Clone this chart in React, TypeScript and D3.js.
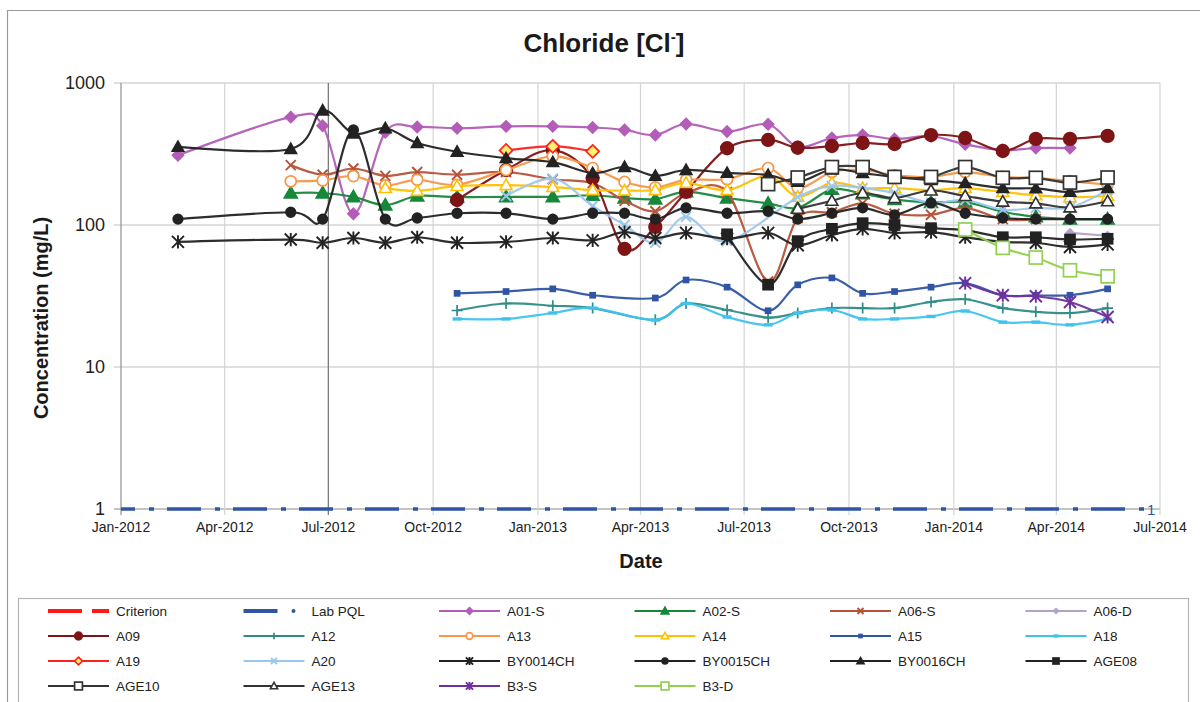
import React from 'react';
import * as d3 from 'd3';

const _ = null;

// sampling dates shared by all monitoring series
const sampleDates = [
  '2012-02-20', '2012-05-29', '2012-06-26', '2012-07-23', '2012-08-20', '2012-09-17',
  '2012-10-22', '2012-12-04', '2013-01-14', '2013-02-18', '2013-03-18', '2013-04-14',
  '2013-05-11', '2013-06-16', '2013-07-22', '2013-08-17', '2013-09-16', '2013-10-13',
  '2013-11-10', '2013-12-12', '2014-01-11', '2014-02-13', '2014-03-14', '2014-04-13',
  '2014-05-16',
];

const xTickDates = [
  '2012-01-01', '2012-04-01', '2012-07-01', '2012-10-01', '2013-01-01', '2013-04-01',
  '2013-07-01', '2013-10-01', '2014-01-01', '2014-04-01', '2014-07-01',
];
const xTickLabels = [
  'Jan-2012', 'Apr-2012', 'Jul-2012', 'Oct-2012', 'Jan-2013', 'Apr-2013',
  'Jul-2013', 'Oct-2013', 'Jan-2014', 'Apr-2014', 'Jul-2014',
];
const yTicks = [1, 10, 100, 1000];
const yTickLabels = ['1', '10', '100', '1000'];

const pqlDates = ['2012-01-01', '2014-06-17'];
const pqlValues = [1, 1];

const a01S = [310, 575, 500, 120, 450, 490, 480, 495, 495, 486, 467, 430, 515, 455, 512, 355, 410, 430, 403, 422, 370, 337, 348, 348, _];
const a02S = [_, 168, 168, 158, 138, 160, 157, 158, 158, 162, 155, 152, 171, 155, 142, 132, 178, 166, 151, 144, 145, 124, 114, 110, 110];
const a06S = [_, 264, 226, 250, 222, 236, 226, 236, 210, 197, 148, 125, 168, 170, 40, 112, 123, 142, 120, 118, 132, 110, 110, _, _];
const a06D = [_, _, _, _, _, _, _, _, _, _, _, _, _, _, _, _, _, _, _, _, _, _, _, 88, 84];
const a09 = [_, _, _, _, _, _, 150, 244, 337, 214, 68, 97, 171, 347, 397, 350, 360, 378, 372, 430, 410, 332, 404, 404, 424];
const a12 = [_, _, _, _, _, _, 25, 28, 27, 26, _, 21.5, 28, 25.2, 22.3, 24, 26, 26, 26, 28.7, 30, 26, 24.5, 24, 26];
const a13 = [_, 203, 206, 221, 190, 208, 192, 244, 305, 252, 201, 184, 208, 210, 252, 182, 236, 244, 225, 218, 236, 218, 214, 204, 192];
const a14 = [_, _, _, _, 182, 174, 188, 191, 185, 176, 175, 176, 198, 176, 222, 158, 198, 182, 182, 176, 182, 171, 162, 157, 160];
const a15 = [_, _, _, _, _, _, 33, 34, 35.5, 32, _, 30.6, 41, 36.5, 24.9, 37.9, 42.4, 33, 34, 36.5, 39, 32, 32, 32, 35.5];
const a18 = [_, _, _, _, _, _, 21.8, 21.8, 24, 26, _, 21.4, 28, 22.5, 19.8, 24, 25.2, 21.8, 21.8, 22.7, 24.8, 20.7, 20.7, 19.8, 21.8];
const a19 = [_, _, _, _, _, _, _, 335, 358, 330, _, _, _, _, _, _, _, _, _, _, _, _, _, _, _];
const a20 = [_, _, _, _, _, _, _, 160, 212, 136, 100, 75, 114, 77, _, 157, 188, 182, 168, 143, 150, 128, 132, 133, 176];
const by0014ch = [76, 79, 75, 81, 75, 82, 75, 76, 81, 78, 89, 81, 88, 80, 88, 72, 85, 94, 88, 89, 82, 76, 75, 70, 73];
const by0015ch = [110, 123, 110, 467, 110, 112, 121, 121, 110, 121, 121, 110, 132, 121, 125, 110, 121, 132, 118, 143, 121, 112, 110, 110, 110];
const by0016ch = [355, 343, 640, 440, 480, 378, 328, 296, 277, 232, 256, 222, 244, 233, 225, 201, 246, 232, 218, 207, 197, 182, 181, 171, 182];
const age08 = [_, _, _, _, _, _, _, _, _, _, _, _, _, 86, 38, 77, 94, 103, 100, 95, 92, 82, 82, 79, 80];
const age10 = [_, _, _, _, _, _, _, _, _, _, _, _, _, _, 194, 216, 256, 256, 218, 218, 256, 215, 215, 199, 216];
const age13 = [_, _, _, _, _, _, _, _, _, _, _, _, _, _, _, 130, 148, 168, 155, 175, 160, 146, 142, 133, 147];
const b3S = [_, _, _, _, _, _, _, _, _, _, _, _, _, _, _, _, _, _, _, _, 39, 32, 31.5, 28.7, 22.5];
const b3D = [_, _, _, _, _, _, _, _, _, _, _, _, _, _, _, _, _, _, _, _, 93, 69, 59, 48, 43.5];

type Series = {
  name: string;
  values: (number | null)[] | null;
  color: string;
  marker: string;
  fill?: string;
  size: number;
};

const series: Series[] = [
  { name: 'Criterion', values: null, color: '#FF1A1A', marker: 'none', size: 0 },
  { name: 'Lab PQL', values: null, color: '#2F55A4', marker: 'none', size: 0 },
  { name: 'A01-S', values: a01S, color: '#B35CB8', marker: 'diamond', size: 5.5 },
  { name: 'A02-S', values: a02S, color: '#17873A', marker: 'triangle', size: 6.5 },
  { name: 'A06-S', values: a06S, color: '#B5533A', marker: 'x', size: 5 },
  { name: 'A06-D', values: a06D, color: '#B3A2C7', marker: 'diamond', size: 4, fill: '#B3A2C7' },
  { name: 'A09', values: a09, color: '#7E1416', marker: 'circle', size: 6.3 },
  { name: 'A12', values: a12, color: '#2E8C88', marker: 'plus', size: 5.5 },
  { name: 'A13', values: a13, color: '#F79646', marker: 'circle', fill: '#FFFFFF', size: 5.5 },
  { name: 'A14', values: a14, color: '#FFC000', marker: 'triangle', fill: '#FFFFFF', size: 6 },
  { name: 'A15', values: a15, color: '#2F55A4', marker: 'square', size: 2.5 },
  { name: 'A18', values: a18, color: '#3EC3EF', marker: 'dash', size: 4.5 },
  { name: 'A19', values: a19, color: '#FF2020', marker: 'diamond', fill: '#FFF170', size: 6.5 },
  { name: 'A20', values: a20, color: '#9CC7EC', marker: 'x', size: 5 },
  { name: 'BY0014CH', values: by0014ch, color: '#222222', marker: 'asterisk', size: 6 },
  { name: 'BY0015CH', values: by0015ch, color: '#222222', marker: 'circle', size: 4.8 },
  { name: 'BY0016CH', values: by0016ch, color: '#222222', marker: 'triangle', size: 5.8 },
  { name: 'AGE08', values: age08, color: '#222222', marker: 'square', size: 5 },
  { name: 'AGE10', values: age10, color: '#333333', marker: 'square', fill: '#FFFFFF', size: 6.5 },
  { name: 'AGE13', values: age13, color: '#333333', marker: 'triangle', fill: '#FFFFFF', size: 6 },
  { name: 'B3-S', values: b3S, color: '#7030A0', marker: 'asterisk', size: 6 },
  { name: 'B3-D', values: b3D, color: '#92D050', marker: 'square', fill: '#FFFFFF', size: 6.5 },
];

const FONT = '"Liberation Sans", Arial, Helvetica, sans-serif';
const W = 1200;
const H = 702;
const plot = { left: 121, right: 1160, top: 83, bottom: 509 };

const parse = d3.timeParse('%Y-%m-%d');

function Marker({ type, x, y, color, fill, s }: { type: string; x: number; y: number; color: string; fill?: string; s: number }) {
  const f = fill ?? color;
  switch (type) {
    case 'circle':
      return <circle cx={x} cy={y} r={s} fill={f} stroke={color} strokeWidth={1.7} />;
    case 'diamond':
      return <path d={`M${x},${y - s}L${x + s},${y}L${x},${y + s}L${x - s},${y}Z`} fill={f} stroke={color} strokeWidth={1.7} />;
    case 'triangle':
      return <path d={`M${x},${y - s}L${x + s},${y + s * 0.75}L${x - s},${y + s * 0.75}Z`} fill={f} stroke={color} strokeWidth={1.6} />;
    case 'square':
      return <rect x={x - s} y={y - s} width={2 * s} height={2 * s} fill={f} stroke={color} strokeWidth={1.7} />;
    case 'x':
      return (
        <path d={`M${x - s},${y - s}L${x + s},${y + s}M${x - s},${y + s}L${x + s},${y - s}`} stroke={color} strokeWidth={1.9} fill="none" />
      );
    case 'plus':
      return <path d={`M${x - s},${y}L${x + s},${y}M${x},${y - s}L${x},${y + s}`} stroke={color} strokeWidth={1.7} fill="none" />;
    case 'asterisk':
      return (
        <path
          d={`M${x - s},${y - s}L${x + s},${y + s}M${x - s},${y + s}L${x + s},${y - s}M${x},${y - s * 1.1}L${x},${y + s * 1.1}`}
          stroke={color}
          strokeWidth={1.9}
          fill="none"
        />
      );
    case 'dash':
      return <rect x={x - s} y={y - 1.7} width={2 * s} height={3.4} fill={color} />;
    default:
      return null;
  }
}

export default function App() {
  const x = d3
    .scaleTime()
    .domain([parse('2012-01-01') as Date, parse('2014-07-01') as Date])
    .range([plot.left, plot.right]);
  const y = d3.scaleLog().domain([1, 1000]).range([plot.bottom, plot.top]);

  const line = d3
    .line<[number, number]>()
    .x((d) => d[0])
    .y((d) => d[1]);

  const dates = sampleDates.map((d) => parse(d) as Date);

  const pqlPts = pqlDates.map((d, i) => [x(parse(d) as Date), y(pqlValues[i])] as [number, number]);

  const legendCols = 6;
  const colW = 195.5;
  const legX0 = 48;
  const legY0 = 611;
  const rowH = 25;

  return (
    <svg
      width={W}
      height={H}
      viewBox={`0 0 ${W} ${H}`}
      style={{ position: 'absolute', left: 0, top: 0, background: '#fff', fontFamily: FONT }}
    >
      <rect x={0} y={0} width={W} height={H} fill="#fff" />
      {/* outer chart frame */}
      <path d={`M7.5,${H}V10.5H${W}`} fill="none" stroke="#9a9a9a" strokeWidth={1.2} />

      {/* title */}
      <text x={604} y={52} textAnchor="middle" fontSize={26} fontWeight="bold" fill="#1a1a1a">
        Chloride [Cl
        <tspan fontSize={15} dy={-10}>
          -
        </tspan>
        <tspan dy={10}>]</tspan>
      </text>

      {/* gridlines */}
      {yTicks.map((t) => (
        <line key={'hy' + t} x1={plot.left - 7} x2={plot.right} y1={y(t)} y2={y(t)} stroke={t === 1 ? '#b0b0b0' : '#d4d4d4'} strokeWidth={1.3} />
      ))}
      {xTickDates.map((d, i) => {
        const xx = x(parse(d) as Date);
        return (
          <line
            key={'vx' + i}
            x1={xx}
            x2={xx}
            y1={plot.top}
            y2={plot.bottom + 6}
            stroke={i === 2 ? '#7a7a7a' : i === 0 ? '#909090' : '#d4d4d4'}
            strokeWidth={i === 2 ? 1.3 : 1.2}
          />
        );
      })}

      {/* Lab PQL */}
      <path
        d={line.curve(d3.curveLinear)(pqlPts) || ''}
        stroke="#2F55A4"
        strokeWidth={3.6}
        fill="none"
        strokeDasharray="34 14 5 13"
        strokeDashoffset={20}
      />
      <text x={pqlPts[1][0] + 7} y={pqlPts[1][1] + 6} fontSize={15} fill="#2F55A4" textAnchor="middle">
        1
      </text>

      {/* series */}
      {series
        .filter((s) => s.values)
        .map((s) => {
          const pts: [number, number][] = [];
          (s.values as (number | null)[]).forEach((v, i) => {
            if (v !== null) pts.push([x(dates[i]), y(v)]);
          });
          const d = line.curve(d3.curveCardinal.tension(0))(pts) || '';
          return (
            <g key={s.name}>
              <path d={d} stroke={s.color} strokeWidth={2.2} fill="none" strokeOpacity={0.95} />
              {pts.map((p, i) => (
                <Marker key={i} type={s.marker} x={p[0]} y={p[1]} color={s.color} fill={s.fill} s={s.size} />
              ))}
            </g>
          );
        })}

      {/* y tick labels */}
      {yTicks.map((t, i) => (
        <text key={'yl' + t} x={105} y={y(t) + 6} textAnchor="end" fontSize={18} fill="#222">
          {yTickLabels[i]}
        </text>
      ))}
      {/* x tick labels */}
      {xTickDates.map((d, i) => (
        <text key={'xl' + i} x={x(parse(d) as Date)} y={532} textAnchor="middle" fontSize={14} fill="#222">
          {xTickLabels[i]}
        </text>
      ))}

      {/* axis titles */}
      <text x={641} y={568} textAnchor="middle" fontSize={20} fontWeight="bold" fill="#1a1a1a">
        Date
      </text>
      <text
        transform={`translate(48,318) rotate(-90)`}
        textAnchor="middle"
        fontSize={20}
        fontWeight="bold"
        fill="#1a1a1a"
      >
        Concentration (mg/L)
      </text>

      {/* legend */}
      <rect x={18.5} y={598.5} width={1170} height={130} fill="#fff" stroke="#b5b5b5" strokeWidth={1.2} />
      {series.map((s, i) => {
        const col = i % legendCols;
        const row = Math.floor(i / legendCols);
        const lx = legX0 + col * colW;
        const ly = legY0 + row * rowH;
        let sym;
        if (s.name === 'Criterion') {
          sym = (
            <g>
              <line x1={lx} x2={lx + 34} y1={ly} y2={ly} stroke={s.color} strokeWidth={4} />
              <line x1={lx + 44} x2={lx + 61} y1={ly} y2={ly} stroke={s.color} strokeWidth={4} />
            </g>
          );
        } else if (s.name === 'Lab PQL') {
          sym = (
            <g>
              <line x1={lx} x2={lx + 34} y1={ly} y2={ly} stroke={s.color} strokeWidth={4} />
              <circle cx={lx + 50} cy={ly} r={2} fill={s.color} />
            </g>
          );
        } else {
          sym = (
            <g>
              <line x1={lx} x2={lx + 61} y1={ly} y2={ly} stroke={s.color} strokeWidth={2.2} />
              <Marker type={s.marker} x={lx + 30.5} y={ly} color={s.color} fill={s.fill} s={Math.min(s.size * 0.6, 4)} />
            </g>
          );
        }
        return (
          <g key={'lg' + s.name}>
            {sym}
            <text x={lx + 68} y={ly + 5} fontSize={13.5} fill="#222">
              {s.name}
            </text>
          </g>
        );
      })}
    </svg>
  );
}
